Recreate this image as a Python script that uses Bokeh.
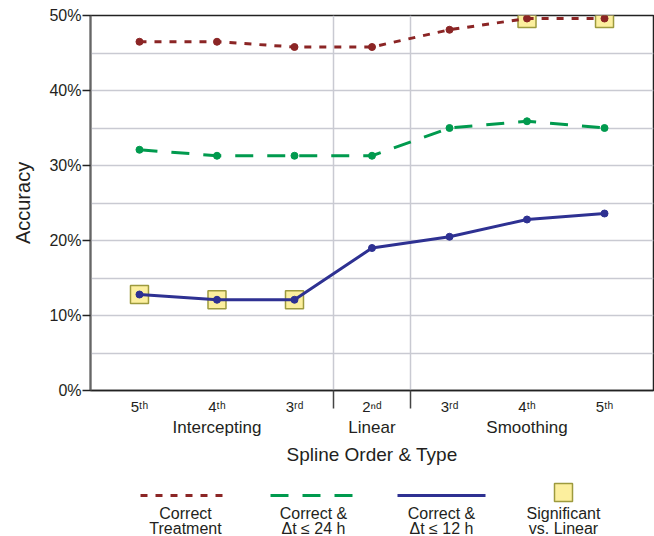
from bokeh.plotting import figure
from bokeh.models import Range1d, FixedTicker, LinearAxis, PrintfTickFormatter
from bokeh.layouts import column
from bokeh.core.properties import value
from bokeh.embed import file_html
from bokeh.resources import INLINE

# Spline order along the x axis, grouped by spline type
order_labels = ["5ᵗʰ", "4ᵗʰ", "3ʳᵈ", "2ⁿᵈ", "3ʳᵈ", "4ᵗʰ", "5ᵗʰ"]
type_labels = ["Intercepting", "Linear", "Smoothing"]
type_centers = [1, 3, 5]
type_breaks = [2.5, 3.5]

# Accuracy (%) per spline configuration
correct_treatment = [46.5, 46.5, 45.8, 45.8, 48.1, 49.6, 49.6]
correct_24h = [32.1, 31.3, 31.3, 31.3, 35.0, 35.9, 35.0]
correct_12h = [12.8, 12.1, 12.1, 19.0, 20.5, 22.8, 23.6]

# Significantly different from the linear spline
sig_treatment = [False, False, False, False, False, True, True]
sig_24h = [False] * 7
sig_12h = [True, True, True, False, False, False, False]

FONT = "Liberation Sans"
TEXT = "#231f20"
RED = "#8b2525"
GREEN = "#009a4e"
BLUE = "#2e3192"
SQ_FILL = "#fcef9e"
SQ_LINE = "#9d9a3e"
GRID = "#c9cad2"

xs = list(range(len(order_labels)))

p = figure(width=654, height=470, x_range=Range1d(-0.632, 6.632), y_range=Range1d(0, 50),
           output_backend="svg", toolbar_location=None,
           min_border_left=90, min_border_right=1, min_border_top=15, min_border_bottom=80)
p.background_fill_color = "white"
p.border_fill_color = "white"
p.outline_line_color = "#222222"
p.outline_line_width = 1.5

# y axis
p.yaxis.ticker = FixedTicker(ticks=[0, 10, 20, 30, 40, 50])
p.yaxis.formatter = PrintfTickFormatter(format="%d%%")
p.yaxis.axis_label = "Accuracy"
p.yaxis.axis_label_text_font = FONT
p.yaxis.axis_label_text_font_size = "20px"
p.yaxis.axis_label_text_font_style = "normal"
p.yaxis.axis_label_text_color = TEXT
p.yaxis.axis_label_standoff = 12
p.yaxis.major_label_text_font = FONT
p.yaxis.major_label_text_font_size = "16px"
p.yaxis.major_label_text_color = TEXT
p.yaxis.major_label_standoff = 1
p.yaxis.axis_line_color = "#666666"
p.yaxis.axis_line_width = 2
p.yaxis.major_tick_out = 8
p.yaxis.major_tick_in = 0
p.yaxis.major_tick_line_color = "#222222"
p.yaxis.major_tick_line_width = 1.5
p.yaxis.minor_tick_line_color = None

# x axis: spline order, with long separators between spline types
xa = p.xaxis[0]
xa.ticker = FixedTicker(ticks=xs, minor_ticks=type_breaks)
xa.major_label_overrides = {i: lab for i, lab in zip(xs, order_labels)}
xa.major_label_text_font = FONT
xa.major_label_text_font_size = "15px"
xa.major_label_text_color = TEXT
xa.major_label_standoff = -11
xa.major_tick_out = 0
xa.major_tick_in = 0
xa.major_tick_line_color = None
xa.minor_tick_out = 18
xa.minor_tick_in = 0
xa.minor_tick_line_color = "#444444"
xa.minor_tick_line_width = 1.5
xa.axis_line_color = "#222222"
xa.axis_line_width = 1.5

# second x axis: spline type
ta = LinearAxis(ticker=FixedTicker(ticks=type_centers),
                major_label_overrides={c: t for c, t in zip(type_centers, type_labels)})
ta.axis_line_color = None
ta.major_tick_line_color = None
ta.minor_tick_line_color = None
ta.major_tick_out = 0
ta.major_tick_in = 0
ta.major_label_text_font = FONT
ta.major_label_text_font_size = "17px"
ta.major_label_text_color = TEXT
ta.major_label_standoff = 0
ta.axis_label = "Spline Order & Type"
ta.axis_label_text_font = FONT
ta.axis_label_text_font_size = "19px"
ta.axis_label_text_font_style = "normal"
ta.axis_label_text_color = TEXT
ta.axis_label_standoff = 4
p.add_layout(ta, "below")

# grids
p.ygrid.ticker = FixedTicker(ticks=[5, 10, 15, 20, 25, 30, 35, 40, 45])
p.ygrid.grid_line_color = GRID
p.ygrid.grid_line_width = 1.5
p.xgrid.ticker = FixedTicker(ticks=type_breaks)
p.xgrid.grid_line_color = GRID
p.xgrid.grid_line_width = 1.5

series = [
    (correct_treatment, sig_treatment, RED, "7 8"),
    (correct_24h, sig_24h, GREEN, "18 14"),
    (correct_12h, sig_12h, BLUE, None),
]

# significance markers sit beneath the lines
for vals, sig, color, dash in series:
    sx = [x for x, s in zip(xs, sig) if s]
    sy = [v for v, s in zip(vals, sig) if s]
    if sx:
        p.scatter(sx, sy, marker="square", size=18, fill_color=SQ_FILL,
                  line_color=SQ_LINE, line_width=1.5)

for vals, sig, color, dash in series:
    kw = {"line_dash": dash} if dash else {}
    p.line(xs, vals, line_color=color, line_width=3, **kw)
    p.scatter(xs, vals, size=7, fill_color=color, line_color=color)

# legend strip beneath the chart; its frame lines up with the chart frame
# (x 90..653), so the x range is given in page pixels
lg = figure(width=654, height=66, x_range=Range1d(90, 653), y_range=Range1d(66, 0),
            output_backend="svg", toolbar_location=None,
            min_border=0)
lg.axis.visible = False
lg.grid.visible = False
lg.outline_line_color = None
lg.background_fill_color = "white"
lg.border_fill_color = "white"

lg.segment(x0=[140], y0=[25], x1=[230], y1=[25], line_color=RED, line_width=3, line_dash="7 8")
lg.segment(x0=[270], y0=[25], x1=[357], y1=[25], line_color=GREEN, line_width=3, line_dash="18 14")
lg.segment(x0=[397], y0=[25], x1=[485], y1=[25], line_color=BLUE, line_width=3)
lg.scatter([563], [22], marker="square", size=18, fill_color=SQ_FILL, line_color=SQ_LINE, line_width=1.5)

legend_x = [185, 313, 441, 563]
legend_line1 = ["Correct", "Correct &", "Correct &", "Significant"]
legend_line2 = ["Treatment", "Δt ≤ 24 h", "Δt ≤ 12 h", "vs. Linear"]
for texts, y in ((legend_line1, 43), (legend_line2, 58)):
    lg.text(legend_x, [y] * len(texts), text=texts, text_font=value(FONT),
            text_font_size="16px", text_color=TEXT, text_align="center",
            text_baseline="middle")

layout = column(p, lg, spacing=0)
open("out.html", "w").write(file_html(layout, INLINE))
